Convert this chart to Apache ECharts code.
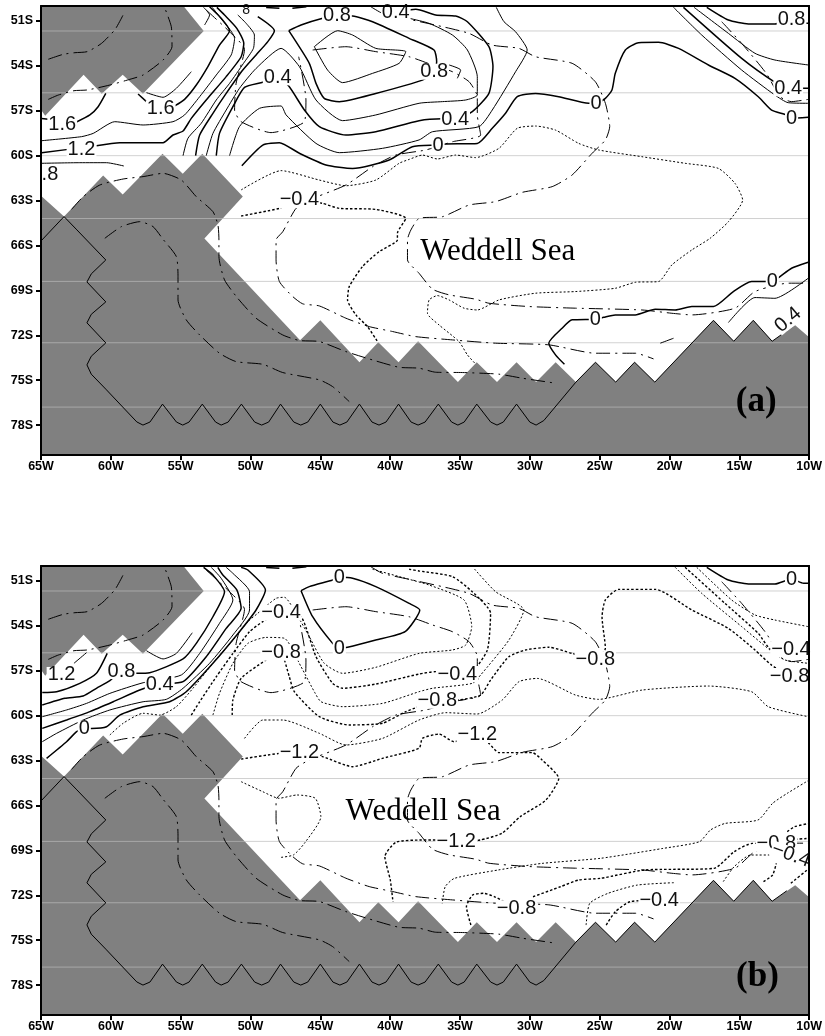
<!DOCTYPE html>
<html><head><meta charset="utf-8">
<style>html,body{margin:0;padding:0;background:#fff}#c{width:825px;height:1036px}</style>
<script src="https://cdn.jsdelivr.net/npm/echarts@6/dist/echarts.min.js"></script>
</head><body><div id="c"></div>
<script>
const lonTicks=[-65,-60,-55,-50,-45,-40,-35,-30,-25,-20,-15,-10];
const latTicks=[-78,-75,-72,-69,-66,-63,-60,-57,-54,-51];
const gridLats=[-51.67,-55.8,-60,-64.2,-68.4,-72.5,-76.8];

const landNorth=[[-65,-50],[-54.8,-50],[-53.35,-51.67],[-57.7,-55.87],[-59.15,-54.6],[-60.65,-55.87],[-61.95,-54.6],[-64.7,-57.33],[-65,-56.93]];
const landSouth=[[-65,-62.67],[-63.35,-64.07],[-60.55,-61.33],[-59.15,-62.6],[-56.3,-59.87],[-54.85,-61.2],[-53.45,-59.87],[-50.55,-62.73],[-53.3,-65.53],[-46.45,-72.33],[-45,-71],[-42.2,-73.8],[-40.85,-72.47],[-39.4,-73.8],[-38,-72.4],[-35.15,-75.13],[-33.8,-73.8],[-32.35,-75.13],[-30.95,-73.8],[-29.55,-75.13],[-28.15,-73.8],[-26.7,-75.13],[-25.3,-73.8],[-23.85,-75.13],[-22.5,-73.8],[-21.05,-75.13],[-16.85,-71],[-15.4,-72.4],[-14,-71],[-12.65,-72.4],[-11,-71.33],[-10,-72.13],[-10,-80],[-65,-80]];
const coast=[[-65,-65.7],[-63.35,-64.07],[-62.43,-64.96],[-60.36,-66.97],[-61.4,-67.9],[-61.71,-68.44],[-60.36,-69.77],[-61.4,-70.6],[-61.71,-71.17],[-60.36,-72.51],[-61.4,-73.4],[-61.71,-73.98],[-61.4,-74.6],[-60.36,-75.6],[-58.14,-77.79],[-57.7,-78],[-57.2,-77.8],[-56.3,-76.6],[-55.3,-77.8],[-54.85,-78],[-54.4,-77.8],[-53.45,-76.6],[-52.5,-77.8],[-52.1,-78],[-51.6,-77.8],[-50.65,-76.6],[-49.7,-77.8],[-49.2,-78],[-48.7,-77.8],[-47.85,-76.6],[-46.9,-77.8],[-46.4,-78],[-45.9,-77.8],[-45,-76.6],[-44.1,-77.8],[-43.6,-78],[-43.1,-77.8],[-42.2,-76.6],[-41.3,-77.8],[-40.8,-78],[-40.3,-77.8],[-39.4,-76.6],[-38.5,-77.8],[-38,-78],[-37.5,-77.8],[-36.55,-76.6],[-35.6,-77.8],[-35.15,-78],[-34.7,-77.8],[-33.8,-76.6],[-32.8,-77.8],[-32.35,-78],[-31.9,-77.8],[-30.95,-76.6],[-30,-77.8],[-29.55,-78],[-29,-77.7],[-26.7,-75.13],[-25.3,-73.8],[-23.85,-75.13],[-22.5,-73.8],[-21.05,-75.13],[-16.85,-71],[-15.4,-72.4],[-14,-71],[-12.65,-72.4],[-11.6,-71.7]];

const dd1=[[-64.48,-53.56],[-63.41,-53.23],[-62.57,-53.12],[-61.69,-53.05],[-60.67,-52.5],[-59.72,-51.6],[-59.31,-50.94],[-59,-50.38]];
const dd2=[[-64.48,-56.24],[-63.76,-55.95],[-62.64,-55.66],[-61.69,-55.61],[-60.07,-55.28],[-58.64,-54.9],[-57.69,-54.61],[-56.26,-53.61],[-55.62,-52.72],[-55.67,-51.38],[-56.1,-50.22]];
const dd3=[[-62.81,-63.59],[-61.98,-62.74],[-60.79,-61.96],[-59.12,-61.56],[-57.69,-61.4],[-56.26,-61.18],[-54.95,-61.63],[-53.88,-62.74],[-52.69,-63.74],[-52.33,-64.63],[-52.26,-65.63],[-52.26,-66.74],[-51.86,-68.3],[-50.91,-69.53],[-49.6,-70.86],[-47.69,-71.98],[-46.5,-72.35],[-45.07,-72.42],[-43.17,-73.09],[-41.26,-73.65],[-39.36,-74.14],[-37.93,-74.2],[-36.74,-74.47],[-34.83,-74.49],[-32.21,-74.6],[-30.54,-74.87],[-28.16,-75.2]];
const dd4=[[-60.43,-65.52],[-59.24,-64.74],[-57.93,-64.41],[-56.98,-64.74],[-56.26,-65.59],[-55.31,-66.74],[-55.19,-68.08],[-55.19,-69.64],[-54.6,-70.97],[-53.64,-71.98],[-52.22,-73.2],[-51.03,-73.76],[-49.12,-73.94],[-47.69,-74.49],[-45.07,-74.98],[-44.12,-75.43],[-42.93,-76.43]];
const dd5=[[-53.17,-50.27],[-51.5,-51.72],[-50.43,-52.9],[-51.03,-55.17],[-51.14,-56.95],[-50.67,-57.73],[-48.53,-58.46],[-46.14,-57.73],[-46.03,-56.28],[-46.55,-53.39]];
const dd6=[[-45.55,-52.94],[-43.17,-52.72],[-41.03,-53.05],[-38.64,-53.39],[-36.97,-53.94],[-35.54,-54.39],[-34.35,-55.06],[-33.76,-56.06],[-33.76,-57.28],[-33.52,-58.62],[-35.54,-59.07],[-37.45,-59.62],[-39.6,-59.96],[-41.26,-60.74],[-43.17,-61.96],[-45.79,-62.96],[-46.74,-63.52],[-47.69,-65.08],[-48.17,-65.63],[-48.17,-66.96],[-47.93,-68.41],[-46.98,-69.41],[-46.26,-69.9],[-45.07,-70.04],[-43.17,-70.86],[-41.5,-71.42],[-39.83,-71.75],[-38.17,-72.09],[-35.54,-72.31],[-32.45,-72.53],[-28.64,-72.64],[-25.31,-73.2],[-22.45,-73.2],[-21.14,-73.58]];
const dd7=[[-41.38,-50.05],[-40.55,-50.49],[-38.64,-50.89],[-36.26,-51.38],[-34.35,-51.83],[-32.69,-52.61],[-30.78,-52.83],[-29.59,-53.39],[-26.97,-53.83],[-25.31,-55.06],[-24.59,-56.5],[-24.28,-58.06],[-24.59,-58.95],[-25.54,-59.84],[-26.97,-61.29],[-28.4,-62.07],[-30.54,-62.45],[-32.45,-63.07],[-34.35,-63.3],[-36.26,-64.08],[-37.93,-64.19],[-38.52,-64.97],[-38.76,-65.63],[-38.76,-66.96],[-37.93,-67.86],[-36.97,-68.92],[-35.78,-69.3],[-33.88,-69.59],[-32.93,-69.86],[-30.07,-70.08],[-26.74,-70.19],[-21.97,-70.31],[-19.83,-70.53],[-18.4,-70.64],[-15.31,-70.19],[-13.88,-69.08],[-11.5,-68.52],[-10.07,-68.52]];
const dd8=[[-16.26,-51.05],[-14.83,-52.5],[-13.04,-54.54],[-12.09,-56.06],[-11.26,-56.39],[-10.07,-56.24]];
const dd9=[[-20.66,-72.53],[-19.71,-72.2]];

const aS1=[[-62.5,-57.77],[-61.5,-57.28],[-60.91,-56.73],[-60.36,-55.84]];
const aS1b=[[-64.95,-57.51],[-64.48,-57.57]];
const aS2a=[[-58.05,-55.88],[-57.45,-56.39]];
const aS2=[[-55.43,-56.68],[-54.72,-56.24],[-53.88,-55.28],[-53.05,-54.05],[-52.22,-52.61],[-51.5,-51.65],[-52.1,-50.82],[-52.93,-50.05]];
const aS3=[[-57.45,-55.79],[-56.26,-56.1],[-55.31,-55.5],[-54.24,-54.39]];
const aS3b=[[-53.36,-50.09],[-52.93,-50.6],[-53.29,-51.27]];
const aS4=[[-64.95,-59],[-62.1,-58.73],[-61.26,-58.51],[-59.72,-57.73],[-57.69,-57.95],[-55.55,-57.73],[-54.72,-57.28],[-53.64,-56.06],[-52.45,-54.61],[-51.38,-53.27],[-51.14,-52.16],[-52.22,-50.71],[-52.74,-50.09]];
const aS5a=[[-64.95,-59.8],[-63.05,-59.58]];
const aS5=[[-61.03,-59.33],[-59.36,-59.13],[-56.26,-59.13],[-55.55,-58.62],[-54.83,-58.35],[-54.24,-57.51],[-53.17,-56.28],[-51.74,-54.72],[-50.67,-53.39],[-50.48,-52.5],[-50.98,-51.49],[-51.86,-50.6],[-52.41,-50.09]];
const aS6=[[-64.95,-60.51],[-62.22,-60.47],[-60.31,-60.47],[-59.07,-60.69]];
const aV1=[[-54.83,-60],[-54.48,-58.84],[-53.53,-57.84],[-52.45,-56.28],[-51.5,-55.17],[-50.5,-53.83],[-49.79,-52.83],[-49.72,-51.94],[-50.31,-51.16],[-50.91,-50.6]];
const aV2=[[-53.93,-60],[-53.64,-58.62],[-52.69,-57.17],[-51.74,-55.84],[-50.55,-54.28],[-49.6,-53.27],[-48.76,-52.38],[-48.29,-51.65],[-49.48,-50.71]];
const aV3b=[[-53.17,-60],[-52.69,-58.51],[-51.74,-56.95],[-50.79,-55.5],[-49.6,-54.17],[-47.81,-52.83],[-46.5,-54.05],[-45.31,-56.28],[-43.41,-57.66],[-41.03,-57.28],[-37.93,-56.5],[-36.26,-56.39],[-34.59,-56.28],[-33.76,-55.95],[-33.76,-54.72],[-34.47,-52.94],[-35.54,-51.94],[-37.21,-51.16],[-38.64,-50.82],[-40,-50.5]];
const aV3=[[-52.45,-60],[-52.22,-58.51],[-51.26,-56.73],[-50.43,-55.44],[-49.12,-55.1],[-48.05,-54.77],[-47.26,-55.35],[-46.14,-56.95],[-45.07,-58.06],[-43.17,-58.62],[-41.03,-58.4],[-37.93,-57.66],[-36.26,-57.53],[-35.35,-57.57],[-34.12,-57.06],[-32.93,-55.84],[-32.64,-54.05],[-32.93,-52.72],[-34.47,-51.05],[-35.31,-50.67],[-36.74,-50.6],[-38.16,-50.22],[-39.6,-50.45]];
const aV4=[[-51.5,-60],[-50.79,-58.06],[-49.36,-56.84],[-47.81,-56.68],[-47.45,-57.28],[-45.31,-59.18],[-43.64,-59.8],[-40.55,-59.51],[-37.93,-58.95],[-36.97,-58.4],[-33.64,-58.06],[-32.69,-56.95],[-31.02,-54.39],[-30.19,-52.94],[-31.02,-51.72],[-31.85,-51.05],[-32.4,-50.09]];
const aV5=[[-50.62,-60.67],[-49.12,-59.29],[-47.93,-59.13],[-46.5,-59.84],[-44.6,-60.62],[-42.69,-60.85],[-40.07,-60.29],[-38.41,-59.4],[-36.57,-59.29],[-36.02,-59.22],[-33.76,-59.18],[-32.69,-58.17],[-31.74,-57.17],[-30.9,-56.06],[-29.59,-55.84],[-27.93,-56.06],[-25.78,-56.5],[-25.26,-56.5],[-24.59,-56.17],[-24.12,-55.61],[-23.88,-54.5],[-23.16,-52.94],[-22.21,-52.45],[-20.78,-52.43],[-19.35,-52.83],[-17.21,-53.94],[-15.31,-54.83],[-13.64,-56.06],[-12.69,-56.95],[-11.62,-57.28],[-11.26,-57.51],[-10.07,-57.44]];
const aT1=[[-47.26,-51.65],[-46.38,-51.27],[-44.83,-50.82],[-43.81,-50.65],[-42.69,-50.67],[-41.26,-51.05],[-38.64,-52.16],[-36.86,-52.94],[-36.67,-53.72],[-36.85,-54.39],[-37.69,-54.95],[-41.03,-55.84],[-43.64,-56.39],[-44.72,-56.17],[-45.31,-55.17],[-45.79,-53.83],[-47.26,-51.65]];
const aT2=[[-45.43,-52.72],[-43.76,-51.65],[-42.69,-51.94],[-41.03,-52.83],[-38.88,-53.05],[-39.36,-53.83],[-41.26,-54.5],[-43.41,-55.12],[-44.48,-54.28],[-45.43,-52.72]];
const aHook=[[-35.78,-53.94],[-34.95,-54.28],[-35.19,-54.83]];
const topBit1=[[-48.88,-50.1],[-47.93,-50.15]];
const topBit2=[[-47,-50.15],[-46,-50.05]];
const aR1=[[-19.71,-50.09],[-17.69,-51.94],[-14.83,-54.28],[-12.45,-55.95],[-11.5,-56.46],[-10.07,-56.5]];
const aR2=[[-19,-50.09],[-14.83,-53.5],[-12.33,-55.17],[-11.5,-55.5],[-10.07,-55.5]];
const aR3=[[-18.24,-50.09],[-15.78,-51.83],[-13.88,-53.16],[-12.45,-53.61],[-10.07,-53.94]];
const topRight=[[-17.33,-50.09],[-15.78,-50.94],[-14.35,-51.2],[-12.45,-51.2],[-11.26,-50.87],[-10.4,-51.16],[-10.07,-51.16]];
const aL1=[[-10.07,-67.12],[-11.26,-67.52],[-12.09,-68.08],[-12.64,-68.41],[-14.12,-68.41],[-15.43,-69.08],[-16.85,-70.08],[-18.4,-70.08],[-19.59,-70.31],[-21.02,-70.26],[-22.45,-70.64],[-23.88,-70.64],[-24.71,-70.8],[-25.31,-70.93],[-26.97,-70.97],[-27.69,-71.53],[-28.64,-72.53],[-28.16,-73.31],[-27.52,-73.94]];
const aL2=[[-10.07,-68.19],[-12.45,-69.53],[-13.88,-69.48],[-15.78,-71.15]];
const aD1=[[-50.67,-62.29],[-47.81,-61],[-45.07,-61.63],[-43.17,-62.01],[-41.03,-61.63],[-39.36,-60.51],[-38.64,-60.25],[-37.69,-59.96],[-36.62,-60.22],[-35.31,-59.96],[-33.88,-60.13],[-32.21,-59.51],[-30.9,-58.17],[-29.59,-58.02],[-28.16,-58.29],[-26.5,-59.18],[-25.07,-59.62],[-21.97,-60.07],[-18.88,-60.51],[-16.5,-60.85],[-15.31,-61.85],[-14.76,-62.96],[-15.78,-64.41],[-17.09,-65.52],[-18.4,-66.3],[-19.83,-67.3],[-20.78,-68.41],[-22.45,-68.46],[-23.88,-68.86],[-26.74,-69.08],[-29.59,-69.19],[-32.21,-69.64],[-33.76,-70.31],[-34.71,-70.19],[-35.78,-69.64],[-36.62,-69.35],[-37.21,-69.64],[-37.33,-70.53],[-36.5,-71.31],[-35.07,-72.42],[-34.47,-73.31],[-33.93,-73.87]];
const aD2=[[-50.67,-64.03],[-47.93,-63.52],[-46.5,-62.96],[-44.84,-63.19],[-43.64,-63.52],[-41.03,-63.59],[-38.88,-64.19],[-39.48,-65.19],[-39.48,-65.63],[-40.79,-66.41],[-41.98,-67.41],[-42.93,-68.75],[-43.05,-69.64],[-42.45,-70.64],[-41.62,-71.42],[-40.91,-72.42]];

const b1a=[[-62.64,-56.5],[-61.74,-55.79]];
const b1b=[[-64.91,-58.46],[-63.88,-58.4],[-62.22,-57.84],[-61.03,-57.17],[-60.26,-55.84]];
const b2=[[-64.91,-59.29],[-63.29,-58.84],[-61.98,-58.69],[-61.03,-58.17],[-60.07,-57.66],[-59.24,-57.02],[-58.12,-57.17],[-57.22,-57.13],[-54.83,-56.21],[-53.88,-55.17],[-52.69,-53.39],[-51.86,-51.72],[-52.69,-50.6],[-53.36,-50.09]];
const b2s=[[-57.45,-55.66],[-56.26,-56.21],[-55.31,-55.84],[-54.17,-54.46]];
const b3=[[-64.91,-60.07],[-63.17,-59.62],[-61.74,-59.18],[-60.07,-58.51],[-57.69,-57.8],[-54.95,-57.28],[-53.64,-55.84],[-52.22,-53.83],[-51.26,-52.27],[-52.1,-50.82],[-52.81,-50.09]];
const b4=[[-64.91,-60.85],[-63.17,-60.29],[-61.5,-59.73],[-59.83,-59.07],[-57.93,-58.29],[-56.5,-57.89],[-54.83,-57.73],[-53.17,-56.06],[-51.74,-54.17],[-50.67,-52.83],[-50.98,-51.6],[-51.98,-50.6],[-52.34,-50.09]];
const b5=[[-64.91,-61.74],[-63.88,-61.18],[-61.98,-60.29],[-60.07,-59.62],[-57.69,-59.07],[-56.03,-58.91],[-54.83,-58.17],[-52.93,-56.5],[-51.26,-54.61],[-50.07,-52.94],[-50.07,-51.72],[-51.26,-50.49],[-51.74,-50.09]];
const b6=[[-64.6,-62.85],[-63.17,-61.74],[-62.45,-61.07],[-61.9,-60.85],[-61.38,-60.85],[-60.31,-60.74],[-59.36,-59.96],[-57.69,-59.4],[-55.79,-59.07],[-54.6,-58.4],[-52.69,-56.5],[-50.79,-54.39],[-49.6,-52.94],[-48.93,-51.6],[-50.19,-50.27],[-50.67,-50.09]];
const bLoop=[[-46.38,-51.65],[-45.79,-51.38],[-44.12,-50.94],[-43.64,-50.76],[-42.69,-50.82],[-41.03,-51.38],[-38.64,-52.5],[-37.88,-52.94],[-38.93,-54.39],[-41.03,-54.95],[-43.05,-55.43],[-43.64,-55.5],[-44.12,-55.17],[-45.55,-53.39],[-46.38,-51.65]];
const c1=[[-60.07,-61.29],[-59.12,-60.51],[-57.69,-59.84],[-56.5,-59.96],[-55.31,-59.4],[-54.12,-58.17],[-52.69,-56.5],[-51.26,-54.95],[-50.19,-53.72],[-49.48,-53.16],[-48.17,-52.16],[-47.57,-52.09],[-46.74,-53.16],[-45.79,-54.72],[-44.72,-56.5],[-43.41,-57.17],[-41.03,-56.77],[-37.93,-55.84],[-35.54,-55.61],[-34.59,-55.28],[-34.16,-54.05],[-34.71,-52.27],[-37.21,-51.27],[-38.64,-50.89],[-41.26,-50.22]];
const c2=[[-54.24,-59.96],[-53.64,-59.07],[-52.45,-57.4],[-51.26,-55.84],[-50.07,-54.39],[-49.12,-53.72],[-47.81,-53.12],[-46.38,-53.39],[-45.31,-56.06],[-44.12,-57.84],[-43.41,-58.17],[-41.03,-57.89],[-37.93,-57.22],[-36.74,-57.06],[-35.19,-57.22],[-34.12,-57.06],[-33.04,-55.61],[-32.81,-53.16],[-34.12,-51.72],[-35.54,-50.71],[-37.93,-50.33],[-38.64,-50.22]];
const c3=[[-52.69,-59.96],[-52.22,-58.51],[-51.26,-56.5],[-50.19,-55.17],[-48.88,-54.77],[-47.57,-54.83],[-46.38,-56.73],[-45.43,-58.4],[-44.95,-59.07],[-43.41,-59.4],[-40.55,-59.18],[-37.93,-58.4],[-36.97,-58.17],[-34.12,-57.84],[-33.52,-57.28],[-31.5,-54.95],[-30.43,-52.94],[-32.45,-51.72],[-34,-50.16]];
const c4=[[-51.31,-59.96],[-51.26,-58.95],[-50.67,-57.51],[-48.88,-56.28],[-47.81,-55.79],[-47.57,-56.28],[-47.22,-57.4],[-46.86,-58.4],[-45.07,-60.07],[-42.93,-60.62],[-40.55,-60.51],[-38.88,-59.73],[-36.62,-59],[-35.07,-58.95],[-33.52,-58.62],[-32.81,-57.62],[-31.5,-56.06],[-30.31,-55.61],[-28.64,-55.43],[-26.97,-55.84],[-25.31,-56.24],[-24.59,-55.5],[-24.83,-53.39],[-24.59,-52.27],[-23.64,-51.56],[-21.02,-51.56],[-18.4,-52.94],[-15.78,-54.17],[-13.88,-55.61],[-12.69,-56.62],[-11.38,-57.35]];
const c5=[[-50.43,-61.52],[-49.12,-60.29],[-47.69,-60.29],[-45.07,-61.18],[-43.17,-61.96],[-40.55,-61.52],[-37.93,-60.29],[-36.02,-59.8],[-33.76,-59.89],[-31.97,-58.95],[-30.78,-57.73],[-29.47,-57.51],[-26.74,-58.62],[-25.07,-58.91],[-21.97,-58.29],[-17.21,-58.02],[-14.12,-58.4],[-12.93,-59.4],[-10.07,-60.07]];
const c6=[[-50.67,-62.9],[-47.93,-62.52],[-46.5,-62.47],[-44.84,-62.74],[-42.69,-63.41],[-40.55,-62.85],[-37.93,-62.18],[-37.69,-61.52],[-36.5,-61.23],[-35.43,-61.74],[-33.76,-61.29],[-32.93,-61.85],[-32.21,-62.47],[-29.83,-62.47],[-29.12,-62.96],[-27.93,-64.19],[-28.85,-65.64],[-30.69,-66.75],[-32,-67.86],[-33.57,-68.31],[-35.27,-68.42],[-36.71,-68.31],[-37.76,-68.31],[-39.59,-68.46],[-40.38,-69.42],[-39.99,-70.98],[-39.8,-72.43]];
const c7=[[-50.67,-64.41],[-49.12,-65.08],[-47.97,-65.52],[-46.67,-65.3],[-45.36,-65.52],[-44.96,-66.75],[-46.14,-68.53],[-46.93,-69.31],[-47.84,-69.47]];
const c8=[[-10,-64.3],[-11.57,-65.19],[-12.62,-65.86],[-13.66,-66.97],[-16.02,-67.2],[-17.07,-67.64],[-17.85,-68.42],[-20.47,-68.87],[-24.93,-69.53],[-29.12,-69.87],[-32.26,-70.31],[-35.4,-70.87],[-36.06,-71.43],[-36.27,-72.54]];
const c9=[[-29.77,-72.1],[-27.81,-71.43],[-26.5,-70.98],[-24.93,-70.87],[-21.78,-70.31],[-16.81,-70.2],[-15.37,-69.09],[-14.06,-68.53],[-12.35,-68.53],[-11.57,-68.31],[-10,-68.2]];
const c10=[[-34.22,-73.99],[-34.54,-72.76],[-34.09,-71.98],[-33.31,-71.87],[-32.52,-72.1],[-30.95,-72.87]];
const c11=[[-25.97,-73.99],[-25.71,-72.54],[-24.4,-71.87],[-22.31,-71.32],[-19.69,-71.16]];
const c12=[[-24.53,-73.99],[-23.88,-73.1],[-22.83,-72.43],[-20.74,-72.32]];
const c13=[[-16.15,-71.09],[-15.37,-70.09],[-14.19,-69.31],[-12.35,-69.31],[-10.91,-69.31]];
const c14=[[-13.27,-71.09],[-12.62,-70.65],[-12.35,-69.87]];
const c15=[[-11.31,-71.2],[-10,-70.2]];
const c16=[[-11.57,-67.75],[-11.04,-67.42],[-10,-67.2]];
const r1=[[-19.59,-50.09],[-17.69,-51.83],[-14.83,-54.05],[-12.81,-55.61],[-11.73,-56.28],[-10.07,-56.5]];
const r2=[[-18.88,-50.09],[-16.02,-52.5],[-13.64,-54.5],[-12.69,-55.57],[-10.9,-55.57]];
const r3=[[-18.05,-50.09],[-15.55,-52.27],[-13.88,-53.27],[-12.45,-53.61],[-10.07,-54.05]];

const labelsA=[["1.6",-63.48,-57.91],["1.6",-56.43,-56.84],["1.2",-62.1,-59.62],[".8",-64.36,-61.29],["8",-50.31,-50.3,{fontSize:14}],["0.8",-43.81,-50.65],["0.4",-39.6,-50.45],["0.4",-48.05,-54.77],["0.8",-36.85,-54.39],["0.4",-35.35,-57.57],["0",-36.57,-59.29],["0",-25.26,-56.5],["0",-11.26,-57.51],["0.4",-11.5,-55.5],["0.8",-11.26,-50.87],["−0.4",-46.5,-62.96],["0",-12.64,-68.41],["0",-25.31,-70.93],["0.4",-11.5,-70.97,{rotate:40}]];
const labelsB=[["1.2",-63.53,-57.28],["0.8",-59.24,-57.02],["0.4",-56.5,-57.89],["0",-61.9,-60.85],["0",-43.64,-50.76],["0",-43.64,-55.5],["0",-11.26,-50.87],["−0.4",-47.81,-53.12],["−0.8",-47.81,-55.79],["−0.4",-35.19,-57.22],["−0.8",-36.62,-59],["−0.8",-25.31,-56.24],["−1.2",-46.5,-62.47],["−1.2",-33.76,-61.29],["−1.2",-35.27,-68.42],["−0.8",-30.95,-72.87],["−0.4",-20.74,-72.32],["−0.4",-11.3,-55.57],["−0.8",-11.4,-57.35],["−0.8",-12.35,-68.53],["−0.4",-11.3,-69.31,{rotate:-20}]];
const seaA=[["Weddell Sea",-32.29,-66.43]];
const seaB=[["Weddell Sea",-37.64,-66.43]];
const panelA=[["(a)",-13.79,-76.45]];
const panelB=[["(b)",-13.7,-77.45]];

const THICK={width:1.5,type:'solid'},THIN={width:1,type:'solid'};
const DOT={width:1,type:[2,2]},DOTB={width:1.4,type:[2.5,2]},DD={width:1,type:[14,5,2,5]};
const ddAll=[dd1,dd2,dd3,dd4,dd5,dd6,dd7,dd8,dd9];
const contoursA=[
 [aS1,THICK],[aS1b,THICK],[aS2a,THICK],[aS2,THICK],[aS3,THIN],[aS3b,THIN],[aS4,THIN],[aS5a,THICK],[aS5,THICK],[aS6,THIN],
 [aV1,THIN],[aV2,THICK],[aV3b,THIN],[aV3,THICK],[aV4,THIN],[aV5,THICK],[aT1,THICK],[aT2,THIN],[aHook,THIN],[topBit1,THICK],[topBit2,THICK],
 [aR1,THIN],[aR2,THICK],[aR3,THIN],[topRight,THICK],[aL1,THICK],[aL2,THIN],[aD1,DOT],[aD2,DOTB]];
const contoursB=[
 [b1a,THIN],[b1b,THICK],[b2,THICK],[b2s,THIN],[b3,THIN],[b4,THICK],[b5,THIN],[b6,THICK],[bLoop,THICK],[topBit1,THICK],[topBit2,THICK],[topRight,THICK],
 [c1,DOT],[c2,DOTB],[c3,DOT],[c4,DOTB],[c5,DOT],[c6,DOTB],[c7,DOT],[c8,DOT],[c9,DOTB],[c10,DOTB],[c11,DOT],[c12,DOTB],[c13,DOT],[c14,DOTB],[c15,DOTB],[c16,DOTB],[r1,DOT],[r2,DOTB],[r3,DOT]];

const tickFont={fontFamily:'Liberation Sans',fontWeight:'bold',fontSize:12.5,color:'#000'};
const lonFmt=v=>Math.abs(v)+'W', latFmt=v=>Math.abs(v)+'S';
const xAxes=[],yAxes=[],grids=[],series=[];
[6,566].forEach((top,p)=>{
  grids.push({left:41,top:top,width:770,height:449,containLabel:false});
  xAxes.push({gridIndex:p,type:'value',min:-65,max:-10,interval:5,position:'bottom',z:10,
    axisLine:{onZero:false,lineStyle:{color:'#000',width:2}},axisTick:{length:5,lineStyle:{color:'#000',width:2},customValues:lonTicks},
    axisLabel:Object.assign({formatter:lonFmt,margin:5,customValues:lonTicks,showMinLabel:true,showMaxLabel:true},tickFont),splitLine:{show:false}});
  xAxes.push({gridIndex:p,type:'value',min:-65,max:-10,position:'top',z:10,axisLine:{onZero:false,lineStyle:{color:'#000',width:2}},axisTick:{show:false},axisLabel:{show:false},splitLine:{show:false}});
  yAxes.push({gridIndex:p,type:'value',min:-80,max:-50,position:'left',z:10,
    axisLine:{onZero:false,lineStyle:{color:'#000',width:2}},axisTick:{length:5,lineStyle:{color:'#000',width:2},customValues:latTicks},
    axisLabel:Object.assign({formatter:latFmt,margin:8,customValues:latTicks},tickFont),splitLine:{show:false}});
  yAxes.push({gridIndex:p,type:'value',min:-80,max:-50,position:'right',z:10,axisLine:{onZero:false,lineStyle:{color:'#000',width:2}},axisTick:{show:false},axisLabel:{show:false},splitLine:{show:false}});
  const ax={xAxisIndex:p*2,yAxisIndex:p*2};
  [landNorth,landSouth].forEach(poly=>{
    series.push(Object.assign({type:'custom',coordinateSystem:'cartesian2d',silent:true,z:1,clip:true,data:[[-40,-65]],encode:{x:0,y:1},
      renderItem:(params,api)=>({type:'polygon',shape:{points:poly.map(q=>api.coord(q))},style:{fill:'#808080',stroke:null}})},ax));
  });
  const line=(pts,style,z)=>series.push(Object.assign({type:'line',data:pts,showSymbol:false,symbol:'none',silent:true,smooth:0.2,z:z,clip:true,
    lineStyle:{color:'#000',width:style.width,type:style.type}},ax));
  gridLats.forEach(la=>{series.push(Object.assign({type:'line',data:[[-65,la],[-10,la]],symbol:'none',silent:true,z:2,lineStyle:{color:'rgba(187,187,187,0.68)',width:1}},ax));});
  series.push(Object.assign({type:'line',data:coast,symbol:'none',silent:true,z:3,lineStyle:{color:'#000',width:1}},ax));
  ddAll.forEach(d=>line(d,DD,3));
  (p?contoursB:contoursA).forEach(c=>line(c[0],c[1],4));
  const txt=(list,base,z)=>series.push(Object.assign({type:'scatter',symbolSize:0.01,silent:true,z:z,clip:false,itemStyle:{opacity:1},
    data:list.map(l=>({value:[l[1],l[2]],label:Object.assign({},base,{formatter:l[0]},l[3]||{})})),
    label:Object.assign({show:true,position:'inside'},base)},ax));
  txt(p?labelsB:labelsA,{fontFamily:'Liberation Sans',fontSize:20,color:'#111',backgroundColor:'#fff',padding:[-2,1],show:true,position:'inside',opacity:1},6);
  txt(p?seaB:seaA,{fontFamily:'Liberation Serif',fontSize:31,color:'#000',show:true,position:'inside',opacity:1},5);
  txt(p?panelB:panelA,{fontFamily:'Liberation Serif',fontWeight:'bold',fontSize:35,color:'#000',show:true,position:'inside',opacity:1},7);
});
const chart=echarts.init(document.getElementById('c'),null,{renderer:'canvas'});
chart.setOption({animation:false,backgroundColor:'#fff',grid:grids,
  xAxis:xAxes,yAxis:yAxes,series:series});
</script></body></html>
